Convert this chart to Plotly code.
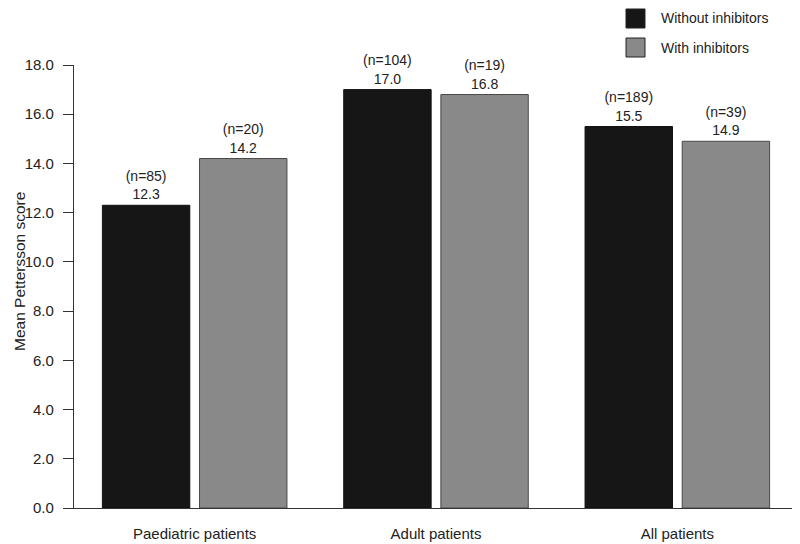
import plotly.graph_objects as go

categories = ["Paediatric patients", "Adult patients", "All patients"]
series_names = ["Without inhibitors", "With inhibitors"]
without_vals = [12.3, 17.0, 15.5]
with_vals = [14.2, 16.8, 14.9]
without_n = [85, 104, 189]
with_n = [20, 19, 39]
y_ticks = [0, 2, 4, 6, 8, 10, 12, 14, 16, 18]
y_title = "Mean Pettersson score"

colors = ["#161616", "#898989"]
borders = ["#111111", "#4a4a4a"]
FONT = "Liberation Sans, Arial, sans-serif"

# page body has an 8px margin; figure sized to fit the window
W, H = 792, 536
L, R, T, B = 66, 2, 57, 36
PW, PH = W - L - R, H - T - B

fig = go.Figure()
for name, vals, ns, col, bc in [
    (series_names[0], without_vals, without_n, colors[0], borders[0]),
    (series_names[1], with_vals, with_n, colors[1], borders[1]),
]:
    fig.add_trace(go.Bar(
        x=categories, y=vals, name=name,
        marker=dict(color=col, line=dict(color=bc, width=1)),
        text=[f"(n={n})<br>{v:.1f}" for n, v in zip(ns, vals)],
        textposition="outside", cliponaxis=False,
        textfont=dict(family=FONT, size=14, color="#222222"),
        showlegend=False,
    ))

# page coords -> paper coords
def px_x(x):
    return (x - 8 - L) / PW

def px_y(y):
    return 1 - (y - 8 - T) / PH

# custom legend (squares + labels)
for i, (name, col) in enumerate(zip(series_names, colors)):
    top = 9 + i * 29
    fig.add_shape(type="rect", xref="paper", yref="paper",
                  x0=px_x(626), x1=px_x(645),
                  y0=px_y(top + 19), y1=px_y(top),
                  fillcolor=col, line=dict(color="#222222", width=1))
    fig.add_annotation(xref="paper", yref="paper",
                       x=px_x(659), y=px_y(top + 9.5),
                       xanchor="left", yanchor="middle", showarrow=False,
                       text=name, font=dict(family=FONT, size=14, color="#222222"))

# y-axis title
fig.add_annotation(xref="paper", yref="paper", x=px_x(19), y=px_y(272),
                   xanchor="center", yanchor="middle", showarrow=False,
                   textangle=-90, text=y_title,
                   font=dict(family=FONT, size=15.5, color="#222222"))

fig.update_layout(
    width=W, height=H,
    margin=dict(l=L, r=R, t=T, b=B, autoexpand=False),
    paper_bgcolor="white", plot_bgcolor="white",
    barmode="group", bargap=0.195, bargroupgap=0.1,
    font=dict(family=FONT, size=14, color="#222222"),
    xaxis=dict(showline=True, linecolor="#333333", linewidth=1.2,
               ticks="", showgrid=False, tickfont=dict(size=15),
               ticklabelstandoff=12),
    yaxis=dict(range=[0, 18], tickvals=y_ticks,
               ticktext=[f"{t:.1f}" for t in y_ticks],
               showline=True, linecolor="#333333", linewidth=1.2,
               ticks="outside", ticklen=10, tickcolor="#333333",
               showgrid=False, zeroline=False, tickfont=dict(size=15),
               ticklabelstandoff=6),
)

fig.write_html("out.html")
